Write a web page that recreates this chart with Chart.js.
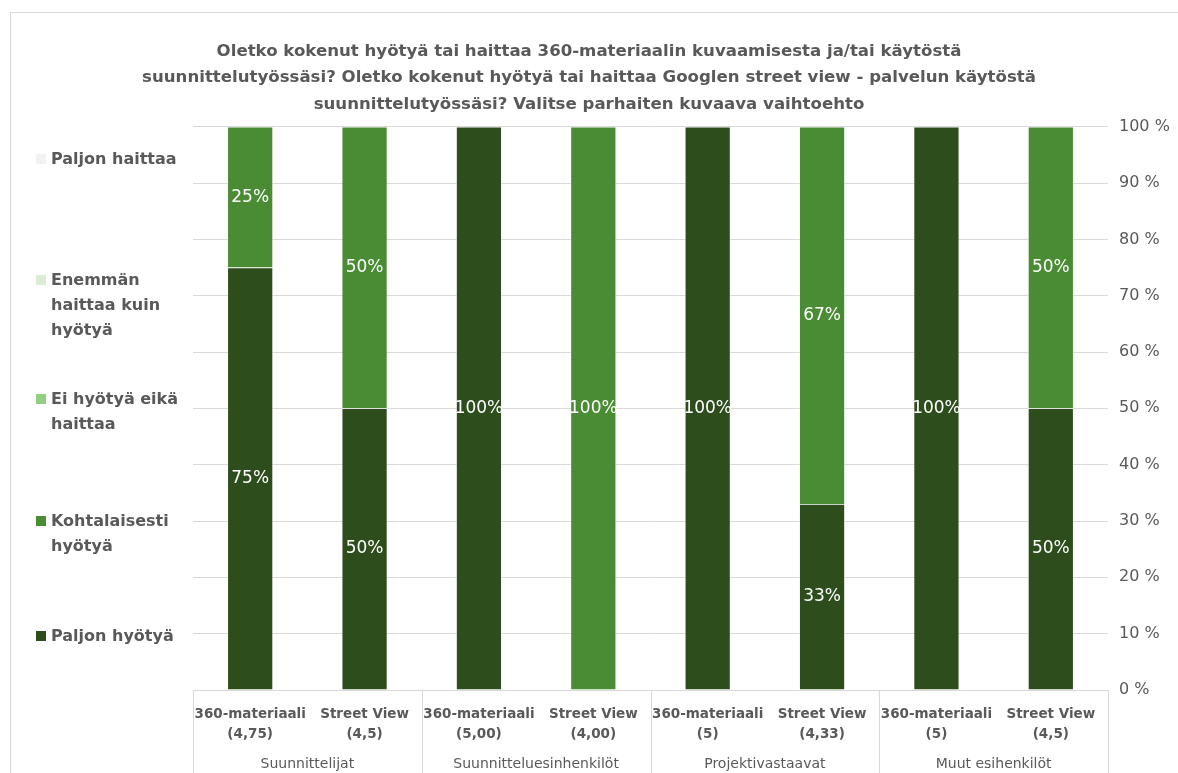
<!DOCTYPE html>
<html>
<head>
<meta charset="utf-8">
<script src="https://cdn.jsdelivr.net/npm/chart.js@4.4.1/dist/chart.umd.min.js"></script>
<style>
  html, body { margin: 0; padding: 0; background: #ffffff; }
  #wrap { position: relative; width: 1178px; height: 773px; overflow: hidden; }
  #frame { position: absolute; left: 10px; top: 12px; width: 1300px; height: 900px; border: 1px solid #d9d9d9; box-sizing: border-box; }
  canvas { position: absolute; left: 0; top: 0; }
  .lg { position: absolute; left: 51px; font-family: "DejaVu Sans", sans-serif; font-weight: bold; font-size: 16px; line-height: 25px; color: #595959; }
  .lg i { position: absolute; left: -15px; top: 8px; width: 10px; height: 10px; }
</style>
</head>
<body>
<div id="wrap">
  <div id="frame"></div>
  <canvas id="c" width="1178" height="773"></canvas>
  <div id="legend"></div>
</div>
<script>
const titleLines = [
  'Oletko kokenut hyötyä tai haittaa 360-materiaalin kuvaamisesta ja/tai käytöstä',
  'suunnittelutyössäsi? Oletko kokenut hyötyä tai haittaa Googlen street view - palvelun käytöstä',
  'suunnittelutyössäsi? Valitse parhaiten kuvaava vaihtoehto'
];
const subLabels = [
  ['360-materiaali', '(4,75)'], ['Street View', '(4,5)'],
  ['360-materiaali', '(5,00)'], ['Street View', '(4,00)'],
  ['360-materiaali', '(5)'], ['Street View', '(4,33)'],
  ['360-materiaali', '(5)'], ['Street View', '(4,5)']
];
const groupLabels = ['Suunnittelijat', 'Suunnitteluesinhenkilöt', 'Projektivastaavat', 'Muut esihenkilöt'];
const yTicks = [0, 10, 20, 30, 40, 50, 60, 70, 80, 90, 100];

const seriesNames = ['Paljon hyötyä', 'Kohtalaisesti hyötyä', 'Ei hyötyä eikä haittaa', 'Enemmän haittaa kuin hyötyä', 'Paljon haittaa'];
const paljonHyotya      = [75, 50, 100, 0, 100, 33, 100, 50];
const kohtalaisesti     = [25, 50, 0, 100, 0, 67, 0, 50];
const eiHyotyaEikaHaitt = [0, 0, 0, 0, 0, 0, 0, 0];
const enemmanHaittaa    = [0, 0, 0, 0, 0, 0, 0, 0];
const paljonHaittaa     = [0, 0, 0, 0, 0, 0, 0, 0];
const seriesColors = ['#2d4e1c', '#4a8c33', '#92d081', '#d8eed2', '#f2f2f2'];

const TEXT = '#595959';
const GRID = '#d9d9d9';
const FONT = '"DejaVu Sans", sans-serif';

// HTML legend (top-to-bottom order as in the reference)
const legendItems = [
  { idx: 4, lines: ['Paljon haittaa'], y: 146 },
  { idx: 3, lines: ['Enemmän', 'haittaa kuin', 'hyötyä'], y: 267 },
  { idx: 2, lines: ['Ei hyötyä eikä', 'haittaa'], y: 386 },
  { idx: 1, lines: ['Kohtalaisesti', 'hyötyä'], y: 508 },
  { idx: 0, lines: ['Paljon hyötyä'], y: 623 }
];
const lg = document.getElementById('legend');
legendItems.forEach(it => {
  const d = document.createElement('div');
  d.className = 'lg';
  d.style.top = it.y + 'px';
  d.innerHTML = '<i style="background:' + seriesColors[it.idx] + '"></i>' + it.lines.join('<br>');
  lg.appendChild(d);
});

const valueLabels = {
  id: 'valueLabels',
  afterDatasetsDraw(chart) {
    const ctx = chart.ctx;
    ctx.save();
    ctx.font = '17px ' + FONT;
    ctx.fillStyle = '#ffffff';
    ctx.textAlign = 'center';
    ctx.textBaseline = 'middle';
    chart.data.datasets.forEach((ds, di) => {
      const meta = chart.getDatasetMeta(di);
      meta.data.forEach((el, i) => {
        const v = ds.data[i];
        if (!v) return;
        const p = el.getProps(['x', 'y', 'base'], true);
        ctx.fillText(v + '%', p.x, (p.y + p.base) / 2);
      });
    });
    ctx.restore();
  }
};

const categoryBox = {
  id: 'categoryBox',
  afterDraw(chart) {
    const ctx = chart.ctx;
    const xs = chart.scales.x;
    const a = chart.chartArea;
    ctx.save();
    ctx.strokeStyle = GRID;
    ctx.lineWidth = 1;
    ctx.beginPath();
    ctx.moveTo(a.left, Math.round(a.bottom) + 0.5);
    ctx.lineTo(a.right, Math.round(a.bottom) + 0.5);
    const n = subLabels.length;
    const step = xs.getPixelForValue(1) - xs.getPixelForValue(0);
    for (let g = 0; g <= n; g += 2) {
      const x = Math.round(xs.getPixelForValue(g) - step / 2) + 0.5;
      ctx.moveTo(x, a.bottom);
      ctx.lineTo(x, chart.height);
    }
    ctx.stroke();
    ctx.restore();
  }
};

const datasets = [paljonHyotya, kohtalaisesti, eiHyotyaEikaHaitt, enemmanHaittaa, paljonHaittaa].map((d, i) => ({
  label: seriesNames[i],
  data: d,
  xAxisID: 'x',
  yAxisID: 'y',
  backgroundColor: seriesColors[i],
  borderColor: 'rgba(255,255,255,0.6)',
  borderWidth: 0.75,
  categoryPercentage: 1,
  barPercentage: 0.4
}));

new Chart(document.getElementById('c'), {
  type: 'bar',
  data: { labels: subLabels, datasets },
  options: {
    responsive: false,
    animation: false,
    layout: { padding: { left: 0, right: 0, top: 38, bottom: 0 } },
    plugins: {
      legend: { display: false },
      tooltip: { enabled: false },
      title: {
        display: true,
        text: titleLines,
        color: TEXT,
        font: { family: FONT, size: 16.6, weight: 'bold', lineHeight: 1.6 },
        padding: { top: 0, bottom: 9 }
      }
    },
    scales: {
      x: {
        stacked: true,
        position: 'bottom',
        grid: { display: false },
        border: { display: false },
        ticks: { color: TEXT, font: { family: FONT, size: 13.5, weight: 'bold', lineHeight: 1.45 }, padding: 7, maxRotation: 0, autoSkip: false },
        afterFit: s => { s.height = 50; }
      },
      x2: {
        type: 'category',
        labels: groupLabels,
        position: 'bottom',
        offset: true,
        grid: { display: false },
        border: { display: false },
        ticks: { color: TEXT, font: { family: FONT, size: 14 }, padding: 8, maxRotation: 0, autoSkip: false },
        afterFit: s => { s.height = 33; }
      },
      spacer: {
        type: 'linear',
        position: 'left',
        min: 0,
        max: 1,
        grid: { display: false, drawOnChartArea: false },
        border: { display: false },
        ticks: { display: false },
        afterFit: s => { s.width = 193; }
      },
      y: {
        stacked: true,
        position: 'right',
        min: 0,
        max: 100,
        afterBuildTicks: s => { s.ticks = yTicks.map(v => ({ value: v })); },
        grid: { color: GRID, drawTicks: false },
        border: { display: false },
        ticks: { color: TEXT, font: { family: FONT, size: 16 }, padding: 11, callback: v => v + ' %' },
        afterFit: s => { s.width = 70; }
      }
    }
  },
  plugins: [valueLabels, categoryBox]
});
</script>
</body>
</html>
